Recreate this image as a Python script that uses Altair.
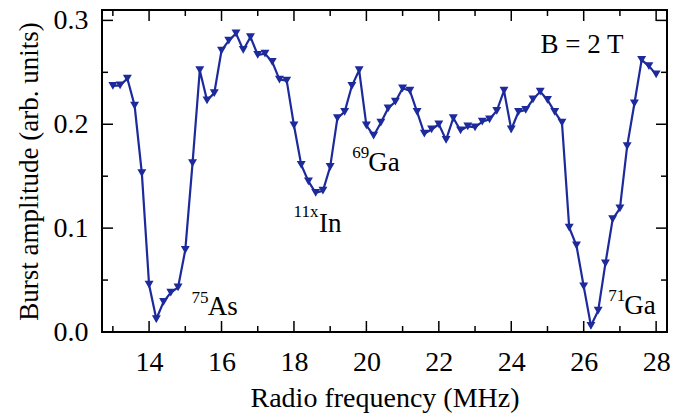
import altair as alt
import pandas as pd

# RF sweep (MHz) and measured burst amplitude
freq_mhz = [
    13.0, 13.2, 13.4, 13.6, 13.8, 14.0, 14.2, 14.4, 14.6, 14.8,
    15.0, 15.2, 15.4, 15.6, 15.8, 16.0, 16.2, 16.4, 16.6, 16.8,
    17.0, 17.2, 17.4, 17.6, 17.8, 18.0, 18.2, 18.4, 18.6, 18.8,
    19.0, 19.2, 19.4, 19.6, 19.8, 20.0, 20.2, 20.4, 20.6, 20.8,
    21.0, 21.2, 21.4, 21.6, 21.8, 22.0, 22.2, 22.4, 22.6, 22.8,
    23.0, 23.2, 23.4, 23.6, 23.8, 24.0, 24.2, 24.4, 24.6, 24.8,
    25.0, 25.2, 25.4, 25.6, 25.8, 26.0, 26.2, 26.4, 26.6, 26.8,
    27.0, 27.2, 27.4, 27.6, 27.8, 28.0,
]
amplitude = [
    0.237, 0.2375, 0.244, 0.218, 0.153, 0.0455, 0.0125, 0.029, 0.038, 0.043,
    0.079, 0.1625, 0.252, 0.223, 0.230, 0.271, 0.2805, 0.2875, 0.2715, 0.284,
    0.2667, 0.268, 0.260, 0.243, 0.242, 0.199, 0.161, 0.145, 0.134, 0.136,
    0.159, 0.206, 0.212, 0.237, 0.252, 0.199, 0.189, 0.2015, 0.2154, 0.2217,
    0.2346, 0.2323, 0.212, 0.191, 0.195, 0.200, 0.185, 0.206, 0.194, 0.198,
    0.197, 0.2025, 0.2048, 0.213, 0.2323, 0.195, 0.212, 0.2138, 0.224, 0.2315,
    0.2234, 0.212, 0.2015, 0.1006, 0.0833, 0.0439, 0.006, 0.0205, 0.066, 0.1087,
    0.119, 0.179, 0.220, 0.262, 0.256, 0.248,
]

# Tick positions
x_major = [14, 16, 18, 20, 22, 24, 26, 28]
x_minor = [13, 15, 17, 19, 21, 23, 25, 27]
y_major = [0.0, 0.1, 0.2, 0.3]
y_minor = [0.05, 0.15, 0.25]

# Isotope annotations: element symbol and mass number, anchored in data units
iso_symbol = ["As", "In", "Ga", "Ga"]
iso_symbol_x = [15.62, 18.69, 20.05, 27.12]
iso_symbol_y = [0.0166, 0.0967, 0.1554, 0.0176]
iso_mass = ["75", "11x", "69", "71"]
iso_mass_x = [15.17, 17.99, 19.61, 26.68]
iso_mass_y = [0.0279, 0.1111, 0.1673, 0.0294]

field_text = ["B = 2 T"]
field_x = [24.81]
field_y = [0.2683]

W, H = 565, 322
BLUE = "#1c2a9c"
FONT = "Liberation Serif"
MAJOR_LEN, MINOR_LEN = 11, 6

df = pd.DataFrame({"freq": freq_mhz, "amp": amplitude})

xs = alt.Scale(domain=[12.7, 28.3], nice=False, zero=False)
ys = alt.Scale(domain=[0, 0.31], nice=False, zero=False)

x_axis = alt.Axis(
    values=x_major, format="d", ticks=False, domain=False, grid=False,
    labelFont=FONT, labelFontSize=28, labelColor="black", labelPadding=16,
    titleFont=FONT, titleFontSize=28, titleFontWeight="normal",
    titleColor="black", titlePadding=8,
)
y_axis = alt.Axis(
    values=y_major, format=".1f", ticks=False, domain=False, grid=False,
    labelFont=FONT, labelFontSize=28, labelColor="black", labelPadding=14,
    titleFont=FONT, titleFontSize=27, titleFontWeight="normal",
    titleColor="black", titlePadding=10,
)

X_TITLE = "Radio frequency (MHz)"
Y_TITLE = "Burst amplitude (arb. units)"


def X():
    return alt.X("freq:Q", scale=xs, axis=x_axis, title=X_TITLE)


def Y():
    return alt.Y("amp:Q", scale=ys, axis=y_axis, title=Y_TITLE)


line = alt.Chart(df).mark_line(color=BLUE, strokeWidth=2.2).encode(x=X(), y=Y())
points = alt.Chart(df).mark_point(
    shape="triangle-down", filled=True, size=80, color=BLUE, opacity=1
).encode(x=X(), y=Y())


def x_ticks(values, length, top):
    d = pd.DataFrame({"freq": values})
    y0, y1 = (0, length) if top else (H, H - length)
    return alt.Chart(d).mark_rule(color="black", strokeWidth=1.5).encode(
        x=X(), y=alt.value(y0), y2=alt.value(y1),
    )


def y_ticks(values, length, right):
    d = pd.DataFrame({"amp": values})
    x0, x1 = (W, W - length) if right else (0, length)
    return alt.Chart(d).mark_rule(color="black", strokeWidth=1.5).encode(
        y=Y(), x=alt.value(x0), x2=alt.value(x1),
    )


ticks = [
    x_ticks(x_major, MAJOR_LEN, False), x_ticks(x_minor, MINOR_LEN, False),
    x_ticks(x_major, MAJOR_LEN, True), x_ticks(x_minor, MINOR_LEN, True),
    y_ticks(y_major, MAJOR_LEN, False), y_ticks(y_minor, MINOR_LEN, False),
    y_ticks(y_major, MAJOR_LEN, True), y_ticks(y_minor, MINOR_LEN, True),
]

sym_df = pd.DataFrame({"freq": iso_symbol_x, "amp": iso_symbol_y, "s": iso_symbol})
mass_df = pd.DataFrame({"freq": iso_mass_x, "amp": iso_mass_y, "s": iso_mass})
field_df = pd.DataFrame({"freq": field_x, "amp": field_y, "s": field_text})


def labels(d, size):
    return alt.Chart(d).mark_text(
        align="left", baseline="alphabetic", font=FONT, fontSize=size, color="black"
    ).encode(x=X(), y=Y(), text="s:N")


chart = alt.layer(
    line, points, *ticks, labels(sym_df, 27), labels(mass_df, 17), labels(field_df, 27)
).properties(
    width=W, height=H,
    autosize=alt.AutoSizeParams(type="none"),
    padding={"left": 102, "top": 10, "right": 17, "bottom": 84},
).configure_view(stroke="black", strokeWidth=2)

chart.save("out.html", embed_options={"renderer": "svg", "actions": False})
